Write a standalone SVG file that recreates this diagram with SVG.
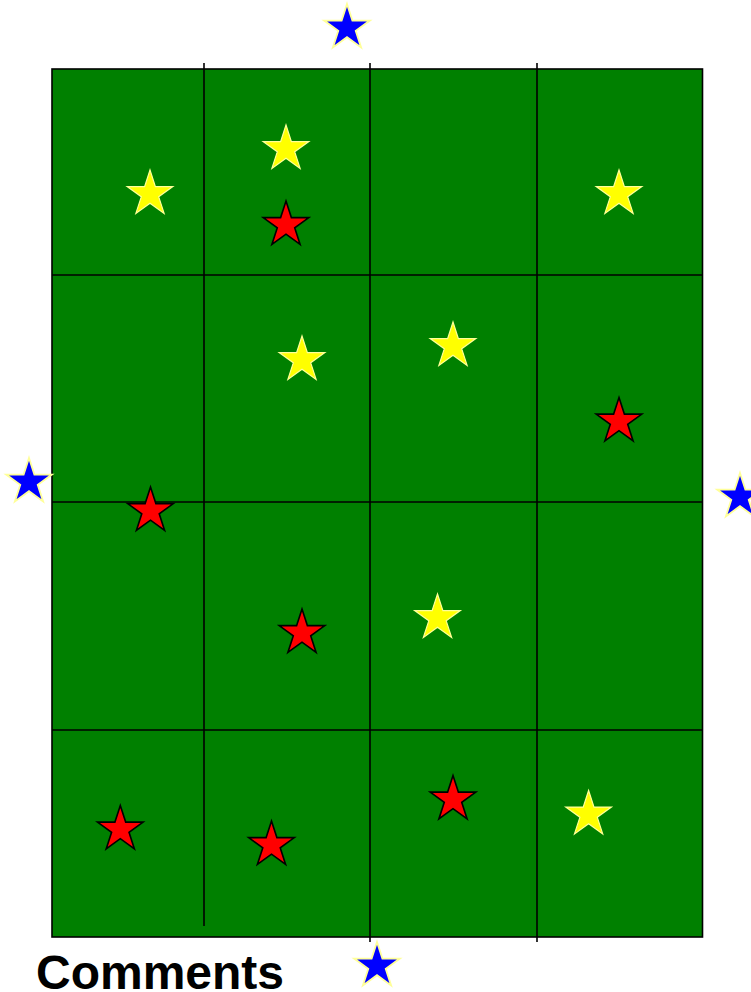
<svg xmlns="http://www.w3.org/2000/svg" xmlns:xlink="http://www.w3.org/1999/xlink" width="751" height="992" viewBox="0 0 751 992">
<style>
.field{fill:#008000;stroke:#000;stroke-width:1.6}
.grid line{stroke:#000;stroke-width:1.6}
.yellow{fill:#ffff00;stroke:#ffff99;stroke-width:1.2}
.red{fill:#ff0000;stroke:#000;stroke-width:1.6}
.blue{fill:#0000ff;stroke:#ffff99;stroke-width:1.8}
.label{font-family:"Liberation Sans",Arial,sans-serif;font-weight:bold;font-size:48px;fill:#000}
</style>
<defs>
<path id="star" d="M0,-24 L5.39,-7.42 L22.83,-7.42 L8.72,2.83 L14.11,19.42 L0,9.17 L-14.11,19.42 L-8.72,2.83 L-22.83,-7.42 L-5.39,-7.42 Z"/>
</defs>
<g id="field">
<rect class="field" x="52" y="69" width="650.5" height="868"/>
</g>
<g id="connectors" class="grid">
<line x1="204" y1="63" x2="204" y2="926"/>
<line x1="370" y1="63" x2="370" y2="942"/>
<line x1="537" y1="63" x2="537" y2="942"/>
<line x1="52" y1="275" x2="703" y2="275"/>
<line x1="52" y1="502" x2="703" y2="502"/>
<line x1="52" y1="730" x2="703" y2="730"/>
</g>
<g id="star-blue-top"><use href="#star" class="blue" x="347" y="28"/></g>
<g id="star-blue-left"><use href="#star" class="blue" x="29" y="482"/></g>
<g id="star-blue-right"><use href="#star" class="blue" x="740" y="497"/></g>
<g id="star-blue-bottom"><use href="#star" class="blue" x="377" y="966"/></g>
<g id="star-y1"><use href="#star" class="yellow" x="150" y="194"/></g>
<g id="star-y2"><use href="#star" class="yellow" x="286" y="149"/></g>
<g id="star-y3"><use href="#star" class="yellow" x="619" y="194"/></g>
<g id="star-y4"><use href="#star" class="yellow" x="302" y="360"/></g>
<g id="star-y5"><use href="#star" class="yellow" x="453" y="346"/></g>
<g id="star-y6"><use href="#star" class="yellow" x="437.5" y="618"/></g>
<g id="star-y7"><use href="#star" class="yellow" x="588.6" y="814.5"/></g>
<g id="star-r1"><use href="#star" class="red" x="286" y="225"/></g>
<g id="star-r2"><use href="#star" class="red" x="619" y="421.5"/></g>
<g id="star-r3"><use href="#star" class="red" x="150.5" y="511"/></g>
<g id="star-r4"><use href="#star" class="red" x="302" y="633"/></g>
<g id="star-r5"><use href="#star" class="red" x="120.3" y="829.5"/></g>
<g id="star-r6"><use href="#star" class="red" x="271.5" y="845"/></g>
<g id="star-r7"><use href="#star" class="red" x="453" y="799.5"/></g>
<g id="comments"><text class="label" x="36" y="989">Comments</text></g>
</svg>
